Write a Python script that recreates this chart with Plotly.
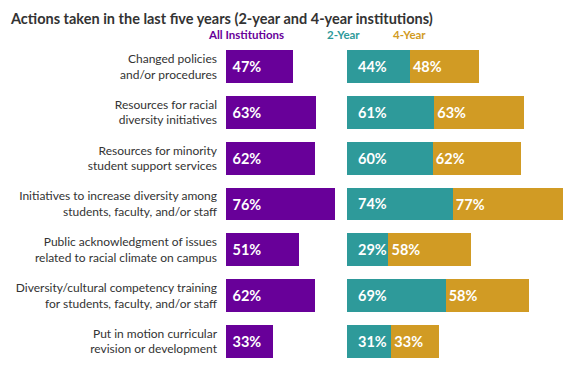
import plotly.graph_objects as go

categories = [
    "Changed policies<br>and/or procedures",
    "Resources for racial<br>diversity initiatives",
    "Resources for minority<br>student support services",
    "Initiatives to increase diversity among<br>students, faculty, and/or staff",
    "Public acknowledgment of issues<br>related to racial climate on campus",
    "Diversity/cultural competency training<br>for students, faculty, and/or staff",
    "Put in motion curricular<br>revision or development",
]
all_inst = [47, 63, 62, 76, 51, 62, 33]
two_year = [44, 61, 60, 74, 29, 69, 31]
four_year = [48, 63, 62, 77, 58, 58, 33]

PURPLE = "#680099"
TEAL = "#2E9A9A"
GOLD = "#D19B24"
FONT = "Lato"

# page body has an 8px margin; size the figure so it fits in the 575x377 window
OFF = 8
W, H = 575 - OFF, 377 - OFF


def px(x):
    return (x - OFF) / W


def py(y):
    return 1 - (y - OFF) / H


NB = "\u00a0"
LBL = dict(color="white", size=14.5, family=FONT)
fig = go.Figure()
fig.add_trace(go.Bar(
    y=categories, x=all_inst, orientation="h", marker=dict(color=PURPLE, line=dict(width=0)),
    text=[f"<b>{NB}{v}%</b>" for v in all_inst], textposition="inside", insidetextanchor="start",
    textfont=LBL, xaxis="x", yaxis="y", showlegend=False,
))
fig.add_trace(go.Bar(
    y=categories, x=two_year, orientation="h", marker=dict(color=TEAL, line=dict(width=0)),
    xaxis="x2", yaxis="y2", showlegend=False,
))
fig.add_trace(go.Bar(
    y=categories, x=four_year, orientation="h", marker=dict(color=GOLD, line=dict(width=0)),
    text=[f"<b>{v}%</b>" for v in four_year], textposition="inside", insidetextanchor="start",
    textfont=LBL, xaxis="x2", yaxis="y2", showlegend=False,
))

scale = 1.43  # px per percent
x1_start = 226
x2_start = 347
ytop = py(43.8)
ybot = py(364.2)

annotations = [
    dict(text="<b>Actions taken in the last five years (2-year and 4-year institutions)</b>",
         xref="paper", yref="paper", x=0, y=1, xanchor="left", yanchor="top",
         showarrow=False, font=dict(size=14.5, color="#333333", family=FONT)),
    dict(text="<b>All Institutions</b>", xref="paper", yref="paper", x=px(246), y=py(35),
         xanchor="center", yanchor="middle", showarrow=False,
         font=dict(size=11.5, color=PURPLE, family=FONT)),
    dict(text="<b>2-Year</b>", xref="paper", yref="paper", x=px(343.5), y=py(35),
         xanchor="center", yanchor="middle", showarrow=False,
         font=dict(size=11.5, color=TEAL, family=FONT)),
    dict(text="<b>4-Year</b>", xref="paper", yref="paper", x=px(409.5), y=py(35),
         xanchor="center", yanchor="middle", showarrow=False,
         font=dict(size=11.5, color=GOLD, family=FONT)),
]
for c, v in zip(categories, two_year):
    annotations.append(dict(
        text=f"<b>{v}%</b>", xref="x2", yref="y2", x=0, y=c, xanchor="left",
        yanchor="middle", xshift=9, showarrow=False, font=LBL,
    ))

fig.update_layout(
    width=W, height=H,
    margin=dict(l=0, r=0, t=0, b=0),
    paper_bgcolor="white", plot_bgcolor="rgba(0,0,0,0)",
    barmode="stack", bargap=0.28,
    font=dict(family=FONT, color="#333333"),
    xaxis=dict(domain=[px(x1_start), px(x1_start + 100 * scale)], range=[0, 100],
               visible=False),
    xaxis2=dict(domain=[px(x2_start), 1], range=[0, (575 - x2_start) / scale],
                visible=False, anchor="y2"),
    yaxis=dict(domain=[ybot, ytop], categoryorder="array", categoryarray=categories,
               range=[6.5, -0.5], showgrid=False, zeroline=False, showline=False,
               ticks="", tickfont=dict(size=12, color="#333333", family=FONT),
               ticklabelstandoff=8, automargin=False),
    yaxis2=dict(domain=[ybot, ytop], categoryorder="array", categoryarray=categories,
                range=[6.5, -0.5], showticklabels=False, showgrid=False, zeroline=False,
                anchor="x2"),
    annotations=annotations,
)

fig.write_html("out.html")
